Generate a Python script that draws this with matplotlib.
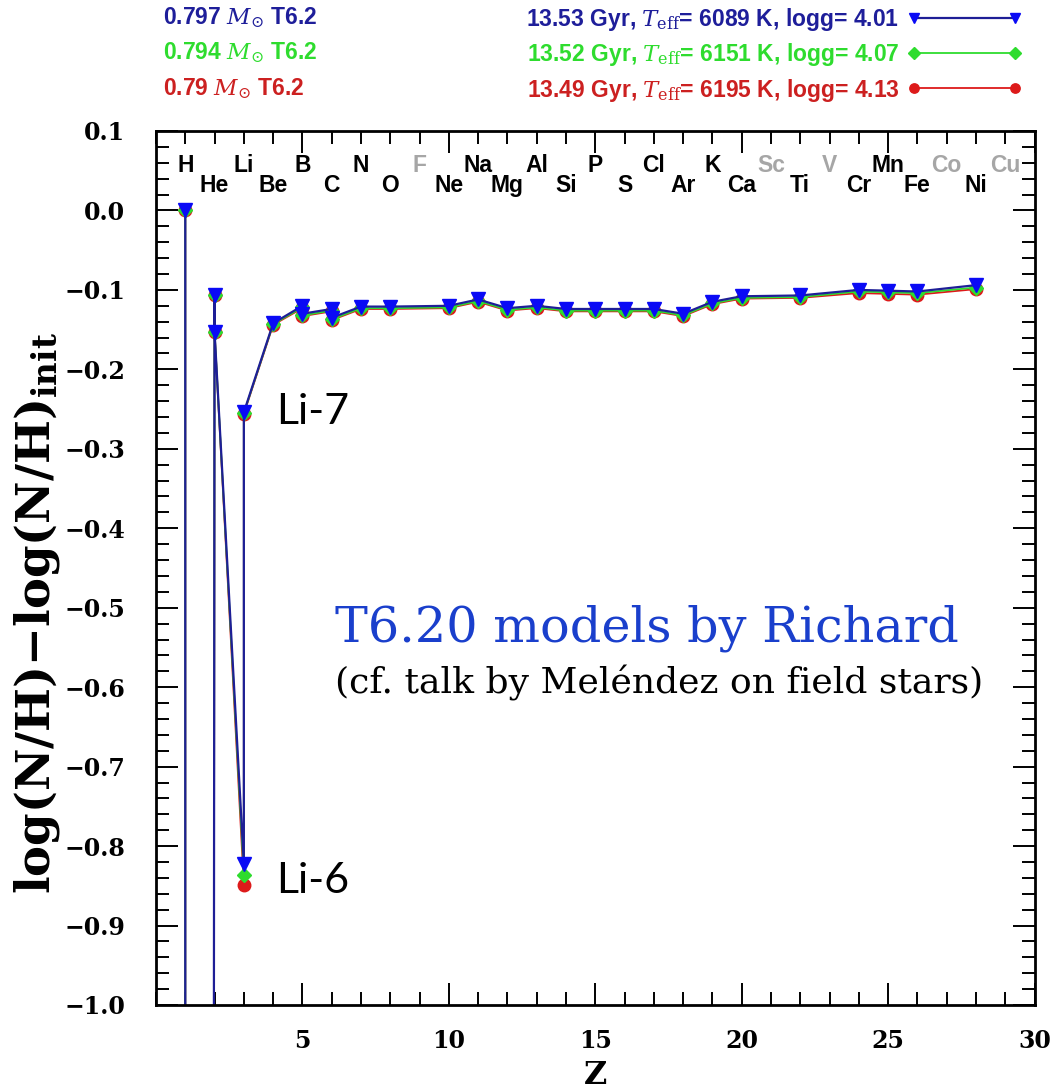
import matplotlib
matplotlib.use("Agg")
import matplotlib.pyplot as plt
from matplotlib.ticker import MultipleLocator, FixedLocator, FuncFormatter

plt.rcParams['mathtext.fontset'] = 'dejavuserif'

# isotopes in order of Z (H-1, H-2, He-3, He-4, Li-6, Li-7, Be-9, B-10, B-11, C-12, C-13, ...)
z_pts = [1, 1, 2, 2, 3, 3, 4, 5, 5, 6, 6, 7, 8, 10, 11, 12, 13, 14, 15, 16, 17, 18,
         19, 20, 22, 24, 25, 26, 28]
blue_vals = [0.0, -40.0, -0.107, -0.153, -0.823, -0.254, -0.142, -0.120, -0.130,
             -0.124, -0.135, -0.121, -0.121, -0.120, -0.112, -0.123, -0.120, -0.124,
             -0.124, -0.124, -0.124, -0.130, -0.115, -0.108, -0.107, -0.100, -0.101,
             -0.102, -0.094]
green_vals = [0.0, -40.0, -0.107, -0.153, -0.836, -0.255, -0.143, -0.122, -0.132,
              -0.126, -0.137, -0.123, -0.123, -0.122, -0.114, -0.125, -0.122, -0.126,
              -0.126, -0.126, -0.126, -0.132, -0.117, -0.110, -0.109, -0.102, -0.103,
              -0.104, -0.097]
red_vals = [0.0, -40.0, -0.107, -0.153, -0.849, -0.256, -0.144, -0.123, -0.133,
            -0.127, -0.138, -0.124, -0.124, -0.123, -0.115, -0.126, -0.123, -0.127,
            -0.127, -0.127, -0.127, -0.133, -0.118, -0.111, -0.110, -0.104, -0.105,
            -0.106, -0.099]

mass_labels = ["0.797 $M_{\\odot}$ T6.2", "0.794 $M_{\\odot}$ T6.2", "0.79 $M_{\\odot}$ T6.2"]
model_labels = ["13.53 Gyr, $T_{\\rm eff}$= 6089 K, logg= 4.01",
                "13.52 Gyr, $T_{\\rm eff}$= 6151 K, logg= 4.07",
                "13.49 Gyr, $T_{\\rm eff}$= 6195 K, logg= 4.13"]

elements = ["H", "He", "Li", "Be", "B", "C", "N", "O", "F", "Ne", "Na", "Mg", "Al", "Si",
            "P", "S", "Cl", "Ar", "K", "Ca", "Sc", "Ti", "V", "Cr", "Mn", "Fe", "Co", "Ni", "Cu"]
missing = ["F", "Sc", "V", "Co", "Cu"]

ytick_vals = [0.1, 0.0, -0.1, -0.2, -0.3, -0.4, -0.5, -0.6, -0.7, -0.8, -0.9, -1.0]
xtick_vals = [5, 10, 15, 20, 25, 30]

blue_line, blue_mk = '#1e1e96', '#0a0af5'
green_c = '#2edc2e'
red_c = '#dd1a1a'

W, H = 1050, 1091
fig = plt.figure(figsize=(W / 100, H / 100), dpi=100)
ax = fig.add_axes([156 / W, 1 - 1005 / H, (1034.5 - 156) / W, (1005 - 131) / H])

ax.plot(z_pts, red_vals, color=red_c, lw=1.3, marker='o', ms=9, mec=red_c, mfc=red_c)
ax.plot(z_pts, green_vals, color=green_c, lw=1.3, marker='D', ms=7.5, mec=green_c, mfc=green_c)
ax.plot(z_pts, blue_vals, color=blue_line, lw=1.6, marker='v', ms=10, mec=blue_mk, mfc=blue_mk)

ax.set_xlim(0, 30)
ax.set_ylim(-1.0, 0.1)

ax.xaxis.set_major_locator(FixedLocator(xtick_vals))
ax.xaxis.set_minor_locator(MultipleLocator(1))
ax.yaxis.set_major_locator(FixedLocator(ytick_vals))
ax.yaxis.set_minor_locator(MultipleLocator(0.02))
ax.yaxis.set_major_formatter(FuncFormatter(lambda v, p: f"{v:.1f}".replace("-", "\u2212")))

ax.tick_params(which='both', direction='in', top=True, right=True, width=1.4)
ax.tick_params(which='major', length=16)
ax.tick_params(axis='y', which='major', pad=22)
ax.tick_params(axis='x', which='major', pad=17)
ax.tick_params(which='minor', length=9.5)
for lab in ax.get_xticklabels() + ax.get_yticklabels():
    lab.set_fontfamily('DejaVu Serif')
    lab.set_fontweight('bold')
    lab.set_fontsize(17)
for s in ax.spines.values():
    s.set_linewidth(2.0)

ax.set_xlabel("Z", fontfamily='DejaVu Serif', fontweight='bold', fontsize=23)
ax.xaxis.set_label_coords(0.5, (1005 - 1076) / 874, transform=ax.transAxes)
ax.xaxis.label.set_va('center')
ax.set_ylabel("log(N/H)\u2212log(N/H)$_{\\mathbf{init}}$", fontfamily='DejaVu Serif',
              fontweight='bold', fontsize=33.5)
ax.yaxis.set_label_coords((37 - 156) / 878, (1005 - 613) / 874)
ax.yaxis.label.set_va('center')

# element names along the top
for i, name in enumerate(elements):
    z = i + 1
    yy = 0.056 if z % 2 == 1 else 0.032
    col = '#a6a6a6' if name in missing else 'black'
    ax.text(z, yy, name, ha='center', va='center', fontsize=16.5, fontweight='bold',
            family='Liberation Sans', color=col)

ax.text(4.1, -0.254, "Li-7", fontsize=31, family='Lato', va='center', ha='left')
ax.text(4.1, -0.844, "Li-6", fontsize=31, family='Lato', va='center', ha='left')

fig.text(335 / W, 1 - 628 / H, "T6.20 models by Richard", fontsize=35.5,
         family='DejaVu Serif', color='#1a3fcc', va='center', ha='left')
fig.text(335 / W, 1 - 683 / H, "(cf. talk by Mel\u00e9ndez on field stars)", fontsize=26,
         family='DejaVu Serif', color='black', va='center', ha='left')

# header "legend"
row_y = [18, 53, 89]
txt_cols = ['#1e1e9a', green_c, '#cc2020']
for yy, lab, col in zip(row_y, mass_labels, txt_cols):
    fig.text(163 / W, 1 - yy / H, lab, fontsize=16.5, fontweight='bold',
             family='Liberation Sans', color=col, va='center', ha='left')

handles = ax.get_lines()[::-1]
leg = fig.legend(handles, model_labels, loc='upper right', bbox_to_anchor=(1022 / W, 1 - 6 / H),
                 frameon=False, markerfirst=False, numpoints=2, handlelength=5.0,
                 markerscale=0.75,
                 prop={'family': 'Liberation Sans', 'weight': 'bold', 'size': 16.5},
                 labelspacing=0.36, handletextpad=0.35, borderpad=0, borderaxespad=0)
for t, col in zip(leg.get_texts(), txt_cols):
    t.set_color(col)

fig.savefig("out.png", dpi=100)
